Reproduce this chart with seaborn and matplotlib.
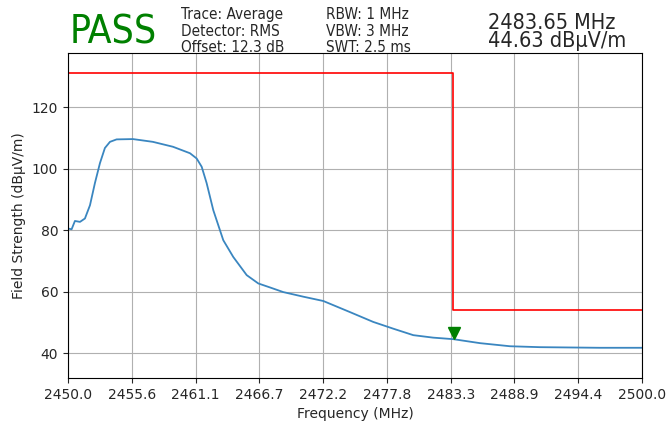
import numpy as np
import pandas as pd
import matplotlib
matplotlib.use("Agg")
import matplotlib.pyplot as plt
import seaborn as sns

# average trace (MHz, dBuV/m)
freq = [2450.0, 2450.32, 2450.61, 2451.05, 2451.48, 2451.92, 2452.35, 2452.79,
        2453.22, 2453.66, 2454.24, 2455.66, 2457.4, 2459.15, 2460.63, 2461.21,
        2461.65, 2462.08, 2462.66, 2463.24, 2463.53, 2464.4, 2465.57, 2466.58,
        2467.6, 2468.75, 2470.5, 2472.24, 2474.56, 2476.59, 2478.34, 2480.08,
        2481.8, 2483.56, 2485.9, 2488.5, 2491.1, 2496.3, 2500.0]
level = [80.55, 80.3, 83.0, 82.7, 83.8, 88.1, 95.3, 101.8,
         106.7, 108.7, 109.5, 109.6, 108.7, 107.1, 105.0, 103.3,
         100.6, 95.3, 86.5, 80.0, 76.75, 71.3, 65.4, 62.7,
         61.4, 59.9, 58.4, 57.0, 53.4, 50.2, 48.0, 45.9,
         45.1, 44.6, 43.3, 42.3, 42.0, 41.8, 41.8]

limit_freq = [2450.0, 2483.5, 2483.5, 2500.0]
limit_level = [131.0, 131.0, 54.0, 54.0]

marker_freq = 2483.65
marker_level = 44.63

df = pd.DataFrame({"Frequency": freq, "Level": level})

sns.set_style("ticks")
plt.rcParams['font.family'] = ['DejaVu Sans']

fig = plt.figure(figsize=(6.66, 4.29), dpi=100)
ax = fig.add_axes([0.102, 0.119, 0.862, 0.757])

sns.lineplot(data=df, x="Frequency", y="Level", ax=ax, color="#3a86c0", linewidth=1.3)
sns.lineplot(x=limit_freq, y=limit_level, ax=ax, color="red", linewidth=1.2,
             estimator=None, sort=False)
ax.plot([marker_freq], [marker_level + 2.0], marker="v", color="green",
        markersize=8, linestyle="none")

xt = np.linspace(2450, 2500, 10)
ax.set_xticks(xt)
ax.set_xticklabels([f"{v:.1f}" for v in xt])
ax.set_yticks([40, 60, 80, 100, 120])
ax.set_xlim(2450, 2500)
ax.set_ylim(32, 137.5)
ax.grid(True, color="#b0b0b0", linewidth=0.8)
ax.set_xlabel("Frequency (MHz)", fontsize=10)
ax.set_ylabel("Field Strength (dBµV/m)", fontsize=10)
ax.tick_params(labelsize=10)
for s in ax.spines.values():
    s.set_color("black")

cond = dict(fontstretch="condensed", va="bottom")
fig.text(0.105, 0.881, "PASS", color="green", fontsize=28, **cond)
fig.text(0.272, 0.871, "Trace: Average\nDetector: RMS\nOffset: 12.3 dB",
         fontsize=11, linespacing=1.12, **cond)
fig.text(0.49, 0.871, "RBW: 1 MHz\nVBW: 3 MHz\nSWT: 2.5 ms",
         fontsize=11, linespacing=1.12, **cond)
fig.text(0.733, 0.881, "2483.65 MHz\n44.63 dBµV/m",
         fontsize=15.5, linespacing=0.89, **cond)

fig.savefig("out.png", dpi=100)
